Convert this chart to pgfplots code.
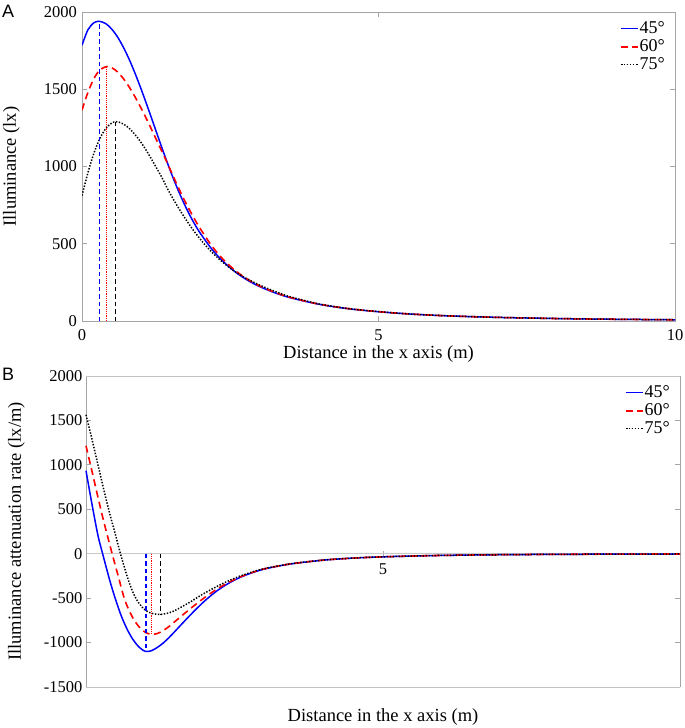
\documentclass[border=0pt]{standalone}
\usepackage{fontspec}
\setmainfont{Liberation Serif}
\newfontfamily\panelfont{Liberation Sans}
\usepackage{pgfplots}
\pgfplotsset{compat=1.18}
\definecolor{axgray}{RGB}{165,165,165}
\definecolor{hgray}{RGB}{195,195,195}
\definecolor{zerogray}{RGB}{200,200,200}

\pgfplotstableread{
x y
0 1785
0.1 1885
0.2 1930
0.29 1940
0.4 1925
0.5 1890
0.6 1838
0.7 1770
0.8 1690
0.9 1598
1.0 1498
1.1 1392
1.2 1283
1.3 1173
1.4 1065
1.5 962
1.6 866
1.7 778
1.8 698
1.9 627
2.0 565
2.2 460
2.4 378
2.6 313
2.8 262
3.0 222
3.25 183
3.5 152
4.0 108
4.5 79
5.0 60
5.5 46
6.0 36
6.5 29
7.0 23.5
7.5 19.5
8.0 16
8.5 13.3
9.0 11.2
9.5 9.5
10 8
}\Afortyfive

\pgfplotstableread{
x y
0 1365
0.1 1480
0.2 1568
0.3 1625
0.42 1647
0.5 1640
0.6 1612
0.7 1568
0.8 1512
0.9 1447
1.0 1375
1.1 1298
1.2 1218
1.3 1136
1.4 1055
1.5 970
1.6 885
1.7 803
1.8 728
1.9 658
2.0 594
2.2 480
2.4 391
2.6 322
2.8 268
3.0 226
3.25 186
3.5 154
4.0 109
4.5 80
5.0 60.5
5.5 46
6.0 36
6.5 29
7.0 23.5
7.5 19.5
8.0 16
8.5 13.3
9.0 11.2
9.5 9.5
10 8
}\Asixty

\pgfplotstableread{
x y
0 812
0.1 960
0.2 1085
0.3 1180
0.4 1245
0.5 1281
0.57 1290
0.65 1284
0.75 1262
0.85 1226
0.95 1180
1.05 1125
1.15 1062
1.25 995
1.35 927
1.45 850
1.55 782
1.65 718
1.75 658
1.85 602
1.95 551
2.1 482
2.3 405
2.5 342
2.7 291
2.9 250
3.1 215
3.3 185
3.5 158
4.0 110
4.5 80
5.0 60.5
5.5 46
6.0 36
6.5 29
7.0 23.5
7.5 19.5
8.0 16
8.5 13.3
9.0 11.2
9.5 9.5
10 8
}\Aseventyfive

\pgfplotstableread{
x y
0 934
0.1 560
0.2 210
0.28 0
0.4 -300
0.5 -520
0.6 -710
0.7 -860
0.8 -975
0.9 -1055
1.0 -1100
1.1 -1092
1.2 -1055
1.3 -1005
1.4 -942
1.5 -872
1.6 -800
1.8 -660
2.0 -530
2.2 -420
2.4 -333
2.6 -265
2.8 -213
3.0 -173
3.25 -138
3.5 -110
4.0 -72
4.5 -49
5.0 -35
5.5 -26
6.0 -19
7.0 -11
8.0 -7
9.0 -4.5
10 -3
}\Bfortyfive

\pgfplotstableread{
x y
0 1215
0.1 930
0.2 640
0.3 360
0.44 0
0.55 -270
0.63 -470
0.7 -600
0.8 -735
0.9 -828
1.0 -885
1.1 -908
1.2 -898
1.3 -865
1.4 -818
1.5 -762
1.6 -705
1.8 -595
2.0 -492
2.2 -400
2.4 -323
2.6 -260
2.8 -210
3.0 -171
3.25 -137
3.5 -109
4.0 -72
4.5 -49
5.0 -35
5.5 -26
6.0 -19
7.0 -11
8.0 -7
9.0 -4.5
10 -3
}\Bsixty

\pgfplotstableread{
x y
0 1563
0.1 1290
0.2 1005
0.3 720
0.4 450
0.5 205
0.58 0
0.7 -270
0.8 -450
0.9 -565
1.0 -635
1.1 -670
1.25 -683
1.4 -665
1.5 -638
1.6 -602
1.75 -545
1.9 -482
2.0 -442
2.2 -370
2.4 -305
2.6 -250
2.8 -205
3.0 -168
3.25 -135
3.5 -108
4.0 -71
4.5 -49
5.0 -35
5.5 -26
6.0 -19
7.0 -11
8.0 -7
9.0 -4.5
10 -3
}\Bseventyfive

\pgfplotstableread{
x y
0.29 0
0.29 1940
}\Avone
\pgfplotstableread{
x y
0.42 0
0.42 1647
}\Avtwo
\pgfplotstableread{
x y
0.57 0
0.57 1290
}\Avthree
\pgfplotstableread{
x y
1.01 0
1.01 -1100
}\Bvone
\pgfplotstableread{
x y
1.10 0
1.10 -908
}\Bvtwo
\pgfplotstableread{
x y
1.25 0
1.25 -683
}\Bvthree

\tikzset{
  s45/.style={color=blue, line width=1.5pt, solid},
  s60/.style={color=red, line width=1.6pt, dash pattern=on 7pt off 4.5pt},
  s75/.style={color=black, line width=1.5pt, dash pattern=on 1.4pt off 1.6pt},
  v45/.style={color=blue, line width=1.3pt, dash pattern=on 4.5pt off 3pt},
  v60/.style={color=red, line width=1.1pt, dash pattern=on 1.2pt off 1pt},
  v75/.style={color=black, line width=1.3pt, dash pattern=on 4.5pt off 3pt},
  lab/.style={font=\fontsize{18.5}{20}\selectfont, inner sep=0pt},
}
\pgfplotsset{
  common/.style={
    scale only axis,
    xmin=0, xmax=10,
    tick align=inside,
    major tick length=5pt,
    axis line style={draw=axgray, line width=0.8pt},
    every tick/.style={draw=axgray, line width=0.8pt},
    tick label style={font=\fontsize{16.5}{18}\selectfont},
    /pgf/number format/assume math mode=true,
    legend style={draw=none, fill=none, at={(rel axis cs:1,1)}, anchor=north east,
      xshift=-9pt, yshift=-8pt, font=\fontsize{18}{18}\selectfont,
      inner sep=0pt, row sep=1pt,
      nodes={inner sep=1pt, text height=12pt, text depth=3pt}},
    legend cell align=left,
  },
}

\begin{document}
\begin{tikzpicture}
\path[use as bounding box] (0,0) rectangle (685pt,-728pt);

\begin{axis}[common,
  at={(82pt,-321pt)}, anchor=south west,
  width=593pt, height=309pt,
  ymin=0, ymax=2000,
  ytick={0,500,1000,1500,2000},
  yticklabels={0,500,1000,1500,2000},
  xtick={0,5,10}, xticklabels={0,5,10},
  xticklabel style={yshift=-5pt},
  yticklabel style={xshift=-1.5pt},
  xlabel={Distance in the x axis (m)},
  ylabel={Illuminance (lx)},
  xlabel style={lab, at={([yshift=-24pt]axis description cs:0.5,0)}, anchor=north},
  ylabel style={lab, at={([xshift=-62pt]axis description cs:0,0.5)}, anchor=south},
]
\addplot[s45, smooth] table {\Afortyfive};
\addplot[s60, smooth] table {\Asixty};
\addplot[s75, smooth] table {\Aseventyfive};
\addplot[v45] table {\Avone};
\addplot[v60] table {\Avtwo};
\addplot[v75] table {\Avthree};
\legend{45°,60°,75°}
\end{axis}

\begin{axis}[common,
  at={(86pt,-687pt)}, anchor=south west,
  width=594pt, height=311pt,
  clip=false,
  axis x line=middle, axis y line=box,
  x axis line style={draw=zerogray, line width=1.3pt, -},
  y axis line style={-},
  ymin=-1500, ymax=2000,
  ytick={-1500,-1000,-500,0,500,1000,1500,2000},
  yticklabels={-1500,-1000,-500,0,500,1000,1500,2000},
  xtick={5}, xticklabels={5},
  xticklabel style={yshift=-4pt},
  xlabel={Distance in the x axis (m)},
  ylabel={Illuminance attenuation rate (lx/m)},
  xlabel style={lab, at={([yshift=-21pt]axis description cs:0.5,0)}, anchor=north},
  ylabel style={lab, at={([xshift=-61pt]axis description cs:0,0.5)}, anchor=south},
]
\draw[hgray, line width=0.8pt] (rel axis cs:0,0) -- (rel axis cs:1,0);
\draw[hgray, line width=0.8pt] (rel axis cs:0,1) -- (rel axis cs:1,1);
\addplot[s45, smooth] table {\Bfortyfive};
\addplot[s60, smooth] table {\Bsixty};
\addplot[s75, smooth] table {\Bseventyfive};
\addplot[v45] table {\Bvone};
\addplot[v60] table {\Bvtwo};
\addplot[v75] table {\Bvthree};
\legend{45°,60°,75°}
\end{axis}

\node[anchor=north west, inner sep=0pt, font=\panelfont\fontsize{18}{20}\selectfont] at (2pt,-5pt) {A};
\node[anchor=north west, inner sep=0pt, font=\panelfont\fontsize{18}{20}\selectfont] at (2pt,-368pt) {B};
\end{tikzpicture}
\end{document}
